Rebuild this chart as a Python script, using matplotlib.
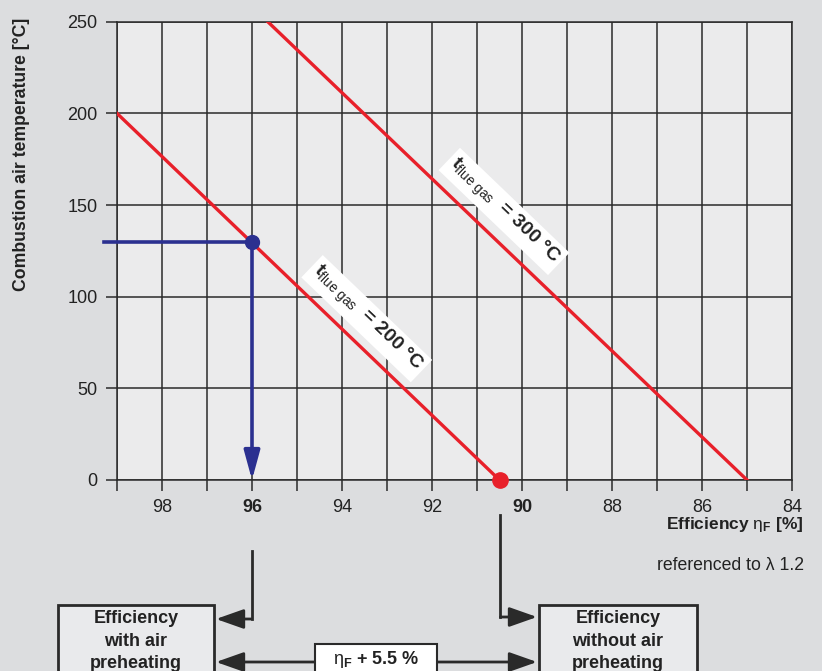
import math
import matplotlib
matplotlib.use("Agg")
import matplotlib.pyplot as plt
import matplotlib.transforms as mtransforms
from matplotlib.patches import Rectangle

plt.rcParams['font.family'] = ['Liberation Sans', 'DejaVu Sans']
plt.rcParams['mathtext.fontset'] = 'custom'
plt.rcParams['mathtext.rm'] = 'Liberation Sans'
plt.rcParams['mathtext.it'] = 'Liberation Sans:italic'
plt.rcParams['mathtext.bf'] = 'Liberation Sans:bold'

# donnees
x_ticks = [98, 96, 94, 92, 90, 88, 86, 84]
bold_ticks = [96, 90]
y_ticks = [0, 50, 100, 150, 200, 250]
t200_x = [99, 90.5]
t200_y = [200, 0]
t300_x = [95.65, 85]
t300_y = [250, 0]
point_with = (96, 130)       # avec prechauffage d'air
point_without = (90.5, 0)    # sans prechauffage
blue_start_x = 99.3
gain_text = r"$\mathrm{\eta}_{\mathbf{F}}$ + 5.5 %"

bg = '#dcdddf'
plot_bg = '#ebebec'
dark = '#2a2a2a'
red = '#e8202a'
blue = '#2b3090'

W, H = 822, 671
fig = plt.figure(figsize=(8.22, 6.71), dpi=100, facecolor=bg)
ax = fig.add_axes([117 / W, 1 - 480 / H, (792 - 117) / W, (480 - 21.7) / H])
ax.set_facecolor(plot_bg)
ax.set_xlim(99, 84)
ax.set_ylim(0, 250)

# grille
ax.set_xticks(range(84, 100), minor=True)
ax.set_xticks(x_ticks)
ax.set_yticks(y_ticks)
ax.grid(True, which='both', axis='x', color=dark, lw=1.1)
ax.grid(True, which='major', axis='y', color=dark, lw=1.1)
ax.set_axisbelow(True)
for s in ax.spines.values():
    s.set_color(dark)
    s.set_linewidth(1.1)
ax.tick_params(axis='both', which='both', direction='out', length=8, width=1.1, color=dark,
               labelsize=13, labelcolor='#222222', pad=6)
ax.set_xticklabels([str(t) for t in x_ticks])
for lab, t in zip(ax.get_xticklabels(), x_ticks):
    if t in bold_ticks:
        lab.set_fontweight('bold')

# lignes rouges
ax.plot(t200_x, t200_y, color=red, lw=2.4, zorder=3)
ax.plot(t300_x, t300_y, color=red, lw=2.4, zorder=3)

# etiquettes des lignes
p1 = ax.transData.transform((t200_x[0], t200_y[0]))
p2 = ax.transData.transform((t200_x[1], t200_y[1]))
ang = math.degrees(math.atan2(p2[1] - p1[1], p2[0] - p1[0]))
for lx, ly, val in [(93.45, 88, 200), (90.4, 146.5, 300)]:
    ax.text(lx, ly, r"$\mathbf{t}_{\rm flue\ gas}$  = %d °C" % val, rotation=ang,
            rotation_mode='anchor', ha='center', va='center', fontsize=14,
            fontweight='bold', color='#222222', zorder=5,
            bbox=dict(boxstyle='square,pad=0.2', fc='white', ec='none'))

# point bleu et fleche
ax.plot([blue_start_x, point_with[0]], [point_with[1], point_with[1]], color=blue, lw=2.6,
        clip_on=False, zorder=4)
ax.annotate('', xy=(point_with[0], 0), xytext=point_with,
            arrowprops=dict(arrowstyle='-|>,head_length=1.1,head_width=0.3', color=blue, lw=2.6,
                            shrinkA=0, shrinkB=0, mutation_scale=16), zorder=4)
ax.plot(*point_with, 'o', color=blue, ms=10, zorder=6)
ax.plot(*point_without, 'o', color=red, ms=11, zorder=6, clip_on=False)

# titres des axes
fig.text(22 / W, 1 - 154 / H, "Combustion air temperature [°C]", rotation=90,
         ha='center', va='center', fontsize=12.7, fontweight='bold', color='#222222')
fig.text(804 / W, 1 - 525 / H, r"Efficiency $\mathrm{\eta}_{\mathbf{F}}$ [%]", ha='right',
         va='center', fontsize=12.5, fontweight='bold', color='#222222')
fig.text(804 / W, 1 - 566 / H, "referenced to λ 1.2", ha='right', va='center',
         fontsize=12.7, color='#222222')

# schema du bas
blend = mtransforms.blended_transform_factory(ax.transData, fig.transFigure)
arrow = dict(arrowstyle='-|>,head_length=0.85,head_width=0.3', color=dark, lw=2,
             shrinkA=0, shrinkB=0, mutation_scale=20)


def fy(py):
    return 1 - py / H


ax.plot([point_with[0]] * 2, [fy(551), fy(619)], color=dark, lw=2, transform=blend, clip_on=False)
ax.annotate('', xy=(216 / W, fy(619)), xycoords='figure fraction',
            xytext=(point_with[0] + 0.02, fy(619)), textcoords=blend, arrowprops=arrow)
ax.plot([point_without[0]] * 2, [fy(515), fy(617)], color=dark, lw=2, transform=blend, clip_on=False)
ax.annotate('', xy=(537 / W, fy(617)), xycoords='figure fraction',
            xytext=(point_without[0] - 0.02, fy(617)), textcoords=blend, arrowprops=arrow)
ax.annotate('', xy=(216 / W, fy(662)), xycoords='figure fraction',
            xytext=(537 / W, fy(662)), textcoords='figure fraction',
            arrowprops=dict(arrow, arrowstyle='<|-|>,head_length=0.85,head_width=0.3'))

boxes = [
    (58, 214, 605, '#e9eaec', "Efficiency\nwith air\npreheating"),
    (539, 697, 605, '#e9eaec', "Efficiency\nwithout air\npreheating"),
]
for x0, x1, top, fc, txt in boxes:
    fig.add_artist(Rectangle((x0 / W, fy(H + 10)), (x1 - x0) / W, (H + 10 - top) / H,
                             transform=fig.transFigure, fc=fc, ec=dark, lw=2, zorder=5))
    fig.text((x0 + x1) / 2 / W, fy(641), txt, ha='center', va='center', fontsize=13,
             fontweight='bold', color='#222222', linespacing=1.45, zorder=6)

fig.add_artist(Rectangle((315 / W, fy(H + 10)), (437 - 315) / W, (H + 10 - 644) / H,
                         transform=fig.transFigure, fc='white', ec=dark, lw=1.5, zorder=5))
fig.text(376 / W, fy(660), gain_text, ha='center', va='center', fontsize=13,
         fontweight='bold', color='#222222', zorder=6)

fig.savefig('out.png', dpi=100, facecolor=bg)
